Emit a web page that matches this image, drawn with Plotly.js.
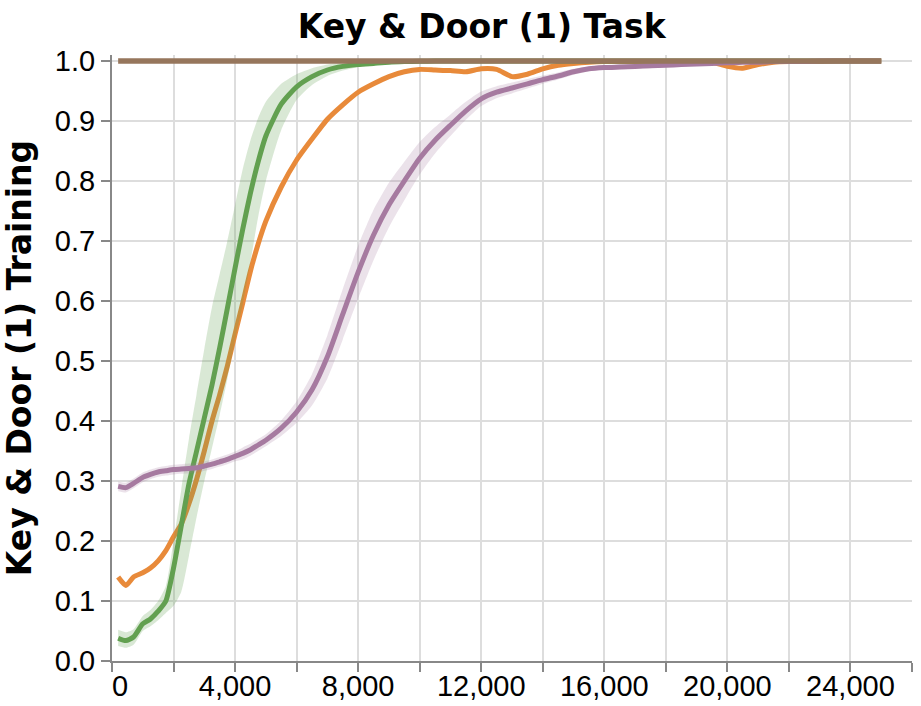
<!DOCTYPE html>
<html>
<head>
<meta charset="utf-8">
<script src="https://cdn.plot.ly/plotly-3.0.1.min.js"></script>
<style>
  html, body { margin: 0; padding: 0; background: #fff; }
  #plot { width: 921px; height: 706px; }
</style>
</head>
<body>
<div id="plot"></div>
<script>
// training steps (x)
var steps = [200, 450, 700, 1000, 1250, 1500, 1750, 2000, 2250, 2500,
  2750, 3000, 3250, 3500, 3750, 4000, 4250, 4500, 4750, 5000,
  5500, 6000, 6500, 7000, 7500, 8000, 8500, 9000, 9500, 10000,
  10500, 11000, 11500, 12000, 12500, 13000, 13500, 14000, 14500, 15000,
  15500, 16000, 16500, 17000, 17500, 18000, 18500, 19000, 19500, 20000,
  20500, 21000, 21500, 22000, 22500, 23000, 23500, 24000, 24500, 25000];

// green run: mean and band
var greenMean = [0.038, 0.034, 0.040, 0.062, 0.070, 0.083, 0.100, 0.155, 0.225, 0.295,
  0.350, 0.405, 0.460, 0.522, 0.588, 0.655, 0.720, 0.780, 0.832, 0.875,
  0.928, 0.957, 0.974, 0.985, 0.991, 0.994, 0.996, 0.998, 0.999, 0.9995,
  1.0, 1.0, 1.0, 1.0, 1.0, 1.0, 1.0, 1.0, 1.0, 1.0,
  1.0, 1.0, 1.0, 1.0, 1.0, 1.0, 1.0, 1.0, 1.0, 1.0,
  1.0, 1.0, 1.0, 1.0, 1.0, 1.0, 1.0, 1.0, 1.0, 1.0];
var greenHigh = [0.052, 0.048, 0.053, 0.075, 0.085, 0.100, 0.125, 0.200, 0.285, 0.370,
  0.445, 0.520, 0.590, 0.645, 0.700, 0.760, 0.820, 0.868, 0.905, 0.932,
  0.962, 0.978, 0.988, 0.994, 0.997, 0.998, 0.999, 1.0, 1.0, 1.0,
  1.0, 1.0, 1.0, 1.0, 1.0, 1.0, 1.0, 1.0, 1.0, 1.0,
  1.0, 1.0, 1.0, 1.0, 1.0, 1.0, 1.0, 1.0, 1.0, 1.0,
  1.0, 1.0, 1.0, 1.0, 1.0, 1.0, 1.0, 1.0, 1.0, 1.0];
var greenLow = [0.025, 0.022, 0.027, 0.050, 0.058, 0.068, 0.080, 0.092, 0.115, 0.175,
  0.240, 0.300, 0.355, 0.410, 0.470, 0.535, 0.595, 0.665, 0.740, 0.800,
  0.885, 0.935, 0.960, 0.975, 0.984, 0.990, 0.993, 0.995, 0.997, 0.998,
  0.999, 0.999, 0.999, 1.0, 1.0, 1.0, 1.0, 1.0, 1.0, 1.0,
  1.0, 1.0, 1.0, 1.0, 1.0, 1.0, 1.0, 1.0, 1.0, 1.0,
  1.0, 1.0, 1.0, 1.0, 1.0, 1.0, 1.0, 1.0, 1.0, 1.0];

// orange run
var orangeMean = [0.140, 0.126, 0.140, 0.147, 0.155, 0.167, 0.184, 0.207, 0.228, 0.262,
  0.303, 0.350, 0.400, 0.444, 0.492, 0.545, 0.597, 0.650, 0.695, 0.733,
  0.790, 0.835, 0.870, 0.903, 0.927, 0.948, 0.962, 0.974, 0.982, 0.986,
  0.985, 0.984, 0.982, 0.987, 0.986, 0.974, 0.978, 0.987, 0.993, 0.996,
  0.998, 0.999, 0.999, 0.999, 0.999, 0.999, 0.999, 0.999, 0.998, 0.991,
  0.988, 0.994, 0.998, 0.999, 0.999, 0.999, 1.0, 1.0, 1.0, 1.0];

// purple run: mean and band
var purpleMean = [0.291, 0.289, 0.296, 0.306, 0.311, 0.315, 0.317, 0.319, 0.320, 0.321,
  0.322, 0.325, 0.328, 0.332, 0.336, 0.341, 0.346, 0.352, 0.360, 0.368,
  0.388, 0.415, 0.452, 0.507, 0.578, 0.648, 0.710, 0.760, 0.800, 0.838,
  0.868, 0.893, 0.917, 0.937, 0.948, 0.955, 0.962, 0.969, 0.975, 0.982,
  0.987, 0.989, 0.990, 0.991, 0.992, 0.993, 0.994, 0.995, 0.996, 0.997,
  0.998, 0.998, 0.999, 0.999, 0.999, 1.0, 1.0, 1.0, 1.0, 1.0];
var purpleHigh = [0.299, 0.297, 0.304, 0.314, 0.319, 0.323, 0.325, 0.327, 0.328, 0.329,
  0.330, 0.333, 0.336, 0.340, 0.344, 0.349, 0.356, 0.362, 0.370, 0.378,
  0.401, 0.433, 0.478, 0.543, 0.620, 0.692, 0.752, 0.797, 0.832, 0.865,
  0.890, 0.911, 0.932, 0.949, 0.958, 0.964, 0.970, 0.976, 0.981, 0.987,
  0.991, 0.993, 0.994, 0.995, 0.996, 0.996, 0.997, 0.998, 0.999, 1.0,
  1.0, 1.0, 1.0, 1.0, 1.0, 1.0, 1.0, 1.0, 1.0, 1.0];
var purpleLow = [0.283, 0.281, 0.288, 0.298, 0.303, 0.307, 0.309, 0.311, 0.312, 0.313,
  0.314, 0.317, 0.320, 0.324, 0.328, 0.333, 0.336, 0.342, 0.350, 0.358,
  0.375, 0.397, 0.426, 0.471, 0.536, 0.604, 0.668, 0.723, 0.768, 0.811,
  0.846, 0.875, 0.902, 0.925, 0.938, 0.946, 0.954, 0.962, 0.969, 0.977,
  0.983, 0.985, 0.986, 0.987, 0.988, 0.990, 0.991, 0.992, 0.993, 0.994,
  0.995, 0.996, 0.997, 0.997, 0.998, 0.998, 0.999, 0.999, 0.999, 0.999];

// brown run (solved from the start)
var brownMean = [1.0, 1.0, 1.0, 1.0, 1.0, 1.0, 1.0, 1.0, 1.0, 1.0,
  1.0, 1.0, 1.0, 1.0, 1.0, 1.0, 1.0, 1.0, 1.0, 1.0,
  1.0, 1.0, 1.0, 1.0, 1.0, 1.0, 1.0, 1.0, 1.0, 1.0,
  1.0, 1.0, 1.0, 1.0, 1.0, 1.0, 1.0, 1.0, 1.0, 1.0,
  1.0, 1.0, 1.0, 1.0, 1.0, 1.0, 1.0, 1.0, 1.0, 1.0,
  1.0, 1.0, 1.0, 1.0, 1.0, 1.0, 1.0, 1.0, 1.0, 1.0];

var GREEN = "#62a050", ORANGE = "#e88a3a", PURPLE = "#a67aa0", BROWN = "#96765c";

function line(y, color, w) {
  return {x: steps, y: y, type: "scatter", mode: "lines",
    line: {color: color, width: w || 5, shape: "spline", smoothing: 0.6},
    hoverinfo: "skip"};
}
function band(lo, hi, fill) {
  return [
    {x: steps, y: lo, type: "scatter", mode: "lines",
      line: {width: 0, shape: "spline", smoothing: 0.6}, hoverinfo: "skip"},
    {x: steps, y: hi, type: "scatter", mode: "lines", fill: "tonexty",
      fillcolor: fill, line: {width: 0, shape: "spline", smoothing: 0.6}, hoverinfo: "skip"}
  ];
}

var data = [line(orangeMean, ORANGE)]
  .concat(band(greenLow, greenHigh, "rgba(98,160,80,0.24)"))
  .concat([line(greenMean, GREEN)])
  .concat(band(purpleLow, purpleHigh, "rgba(166,122,160,0.22)"))
  .concat([line(purpleMean, PURPLE), line(brownMean, BROWN, 5.5)]);

var tickFont = {family: "Liberation Sans, Arial, sans-serif", size: 29, color: "#000"};
var gridColor = "#dddddd";

var layout = {
  width: 921,
  height: 706,
  // top margin leaves room so the line at 1.0 is not cut in half
  margin: {l: 112, r: 9, t: 55, b: 45},
  separators: ".,",
  paper_bgcolor: "#fff",
  plot_bgcolor: "#fff",
  showlegend: false,
  title: {
    text: "Key & Door (1) Task",
    font: {family: "DejaVu Sans", size: 33, color: "#000", weight: "bold"},
    x: 0.523, xanchor: "center",
    y: 0.963, yanchor: "middle"
  },
  xaxis: {
    range: [0, 26000],
    tick0: 0, dtick: 4000,
    tickformat: ",",
    labelalias: {"0": "\u20070"},
    ticks: "outside", ticklen: 9, tickwidth: 2, tickcolor: "#888",
    ticklabelstandoff: -11,
    showline: true, linecolor: "#888", linewidth: 2,
    showgrid: true, gridcolor: gridColor, gridwidth: 2,
    zeroline: false,
    tickfont: tickFont,
    minor: {tick0: 0, dtick: 2000, ticks: "outside", ticklen: 9, tickwidth: 2,
      tickcolor: "#888", showgrid: true, gridcolor: gridColor, gridwidth: 2}
  },
  yaxis: {
    range: [0, 1.01],
    tick0: 0, dtick: 0.1,
    tickformat: ".1f",
    ticks: "outside", ticklen: 9, tickwidth: 2, tickcolor: "#888",
    showline: true, linecolor: "#888", linewidth: 2,
    showgrid: true, gridcolor: gridColor, gridwidth: 2,
    zeroline: false,
    tickfont: tickFont,
    title: {
      text: "Key & Door (1) Training",
      font: {family: "DejaVu Sans", size: 33, color: "#000", weight: "bold"},
      standoff: 16
    }
  }
};

Plotly.newPlot("plot", data, layout, {displayModeBar: false, staticPlot: true});
</script>
</body>
</html>
